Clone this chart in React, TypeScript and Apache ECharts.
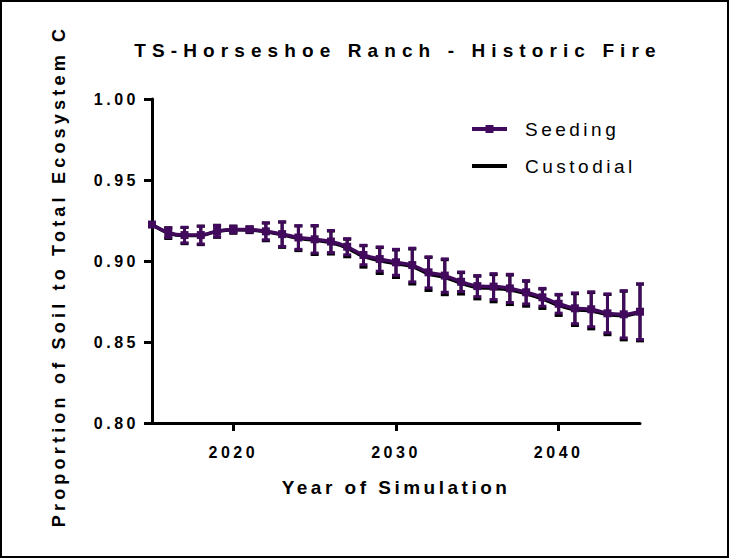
import React, { useEffect, useRef } from "react";
import * as echarts from "echarts";

const TITLE = "TS-Horseshoe Ranch - Historic Fire";
const X_NAME = "Year of Simulation";
const Y_NAME = "Proportion of Soil to Total Ecosystem C";
const SERIES_NAMES = ["Seeding", "Custodial"];

const years = [
  2015, 2016, 2017, 2018, 2019, 2020, 2021, 2022, 2023, 2024, 2025, 2026, 2027, 2028, 2029, 2030,
  2031, 2032, 2033, 2034, 2035, 2036, 2037, 2038, 2039, 2040, 2041, 2042, 2043, 2044, 2045,
];

const seedingMean = [
  0.9225, 0.9175, 0.916, 0.916, 0.9185, 0.9195, 0.9195, 0.9183, 0.9166, 0.9145, 0.9134, 0.912,
  0.9088, 0.9037, 0.9012, 0.8992, 0.8975, 0.893, 0.891, 0.8872, 0.8845, 0.8842, 0.8831, 0.8807,
  0.8776, 0.8736, 0.8708, 0.8702, 0.8677, 0.8671, 0.8687,
];
const seedingErr = [
  0.001, 0.003, 0.0048, 0.0055, 0.0035, 0.002, 0.0015, 0.0052, 0.0076, 0.0073, 0.0085, 0.0068,
  0.005, 0.006, 0.0075, 0.008, 0.0104, 0.0096, 0.0103, 0.006, 0.0065, 0.008, 0.0087, 0.0072,
  0.0055, 0.0058, 0.0095, 0.0108, 0.012, 0.0146, 0.0172,
];

const custodialMean = [
  0.9225, 0.9172, 0.9157, 0.9158, 0.9183, 0.9193, 0.9192, 0.918, 0.9162, 0.914, 0.9128, 0.9114,
  0.908, 0.9028, 0.9003, 0.8983, 0.8966, 0.892, 0.89, 0.8862, 0.8836, 0.8832, 0.8822, 0.8798,
  0.8767, 0.8727, 0.87, 0.8693, 0.8669, 0.8663, 0.8682,
];
const custodialErr = [
  0.001, 0.0033, 0.005, 0.0057, 0.0037, 0.0022, 0.0017, 0.0055, 0.0078, 0.0076, 0.0088, 0.0071,
  0.0054, 0.0066, 0.008, 0.0085, 0.0108, 0.0102, 0.0108, 0.0066, 0.007, 0.0084, 0.0091, 0.0077,
  0.006, 0.0063, 0.0098, 0.0112, 0.0124, 0.015, 0.0175,
];

const xTickValues = [2020, 2030, 2040];
const yMin = 0.8;
const yMax = 1.0;
const yStep = 0.05;

const PURPLE = "#410a5c";
const BLACK = "#000000";
const FONT = '"Liberation Sans", Arial, Helvetica, sans-serif';

const spacing: Record<string, number> = {
  [TITLE]: 6.1,
  [Y_NAME]: 4.2,
  [X_NAME]: 3.5,
  Seeding: 3.5,
  Custodial: 3.5,
};

function applySpacing(root: HTMLElement) {
  root.querySelectorAll("text").forEach((t) => {
    const s = t.textContent || "";
    let ls = spacing[s];
    if (ls === undefined && /^[\d.]+$/.test(s)) ls = 3.5;
    if (ls) t.setAttribute("letter-spacing", String(ls));
  });
}

function errorSeries(name: string, mean: number[], err: number[], color: string, z: number) {
  const data = years.map((yr, i) => [yr, mean[i] - err[i], mean[i] + err[i]]);
  return {
    type: "custom",
    name,
    z,
    silent: true,
    data,
    encode: { x: 0, y: [1, 2] },
    renderItem: (_params: any, api: any) => {
      const x = api.value(0);
      const lo = api.coord([x, api.value(1)]);
      const hi = api.coord([x, api.value(2)]);
      const hw = 4;
      const st = { stroke: color, lineWidth: 3, fill: "none" };
      return {
        type: "group",
        children: [
          { type: "line", shape: { x1: lo[0], y1: lo[1], x2: hi[0], y2: hi[1] }, style: st },
          { type: "line", shape: { x1: lo[0] - hw, y1: lo[1], x2: lo[0] + hw, y2: lo[1] }, style: st },
          { type: "line", shape: { x1: hi[0] - hw, y1: hi[1], x2: hi[0] + hw, y2: hi[1] }, style: st },
        ],
      };
    },
  };
}

export default function App() {
  const ref = useRef<HTMLDivElement>(null);
  useEffect(() => {
    const el = ref.current!;
    const chart = echarts.init(el, null, { renderer: "svg" });
    const option: any = {
      animation: false,
      backgroundColor: "#ffffff",
      textStyle: { fontFamily: FONT },
      grid: { left: 152, right: 89, top: 99, bottom: 135, outerBoundsMode: "none" },
      graphic: [
        {
          type: "rect",
          z: -10,
          shape: { x: 1, y: 1, width: 727, height: 556 },
          style: { fill: "none", stroke: "#000", lineWidth: 2 },
        },
        {
          type: "text",
          x: 398,
          y: 41,
          style: {
            text: TITLE,
            font: `bold 19px ${FONT}`,
            fill: "#000",
            textAlign: "center",
            align: "center",
            textVerticalAlign: "top",
            verticalAlign: "top",
          },
        },
      ],
      legend: {
        data: [
          { name: SERIES_NAMES[0], lineStyle: { width: 4, color: PURPLE } },
          { name: SERIES_NAMES[1], itemStyle: { opacity: 0 }, lineStyle: { width: 4, color: BLACK } },
        ],
        orient: "vertical",
        left: 470,
        top: 119,
        padding: 0,
        itemWidth: 35,
        itemHeight: 10,
        itemGap: 17,
        selectedMode: false,
        textStyle: {
          fontFamily: FONT,
          fontSize: 19,
          color: "#000",
          lineHeight: 20,
          padding: [0, 0, 0, 13],
        },
      },
      xAxis: {
        type: "value",
        min: years[0],
        max: years[years.length - 1],
        name: X_NAME,
        nameLocation: "middle",
        nameGap: 55,
        nameTextStyle: { fontFamily: FONT, fontWeight: "bold", fontSize: 19, color: "#000" },
        axisLine: { show: true, onZero: false, lineStyle: { color: "#000", width: 3 } },
        axisTick: { show: true, length: 8, lineStyle: { color: "#000", width: 3 }, customValues: xTickValues },
        axisLabel: {
          customValues: xTickValues,
          margin: 21,
          fontFamily: FONT,
          fontWeight: "bold",
          fontSize: 16,
          color: "#000",
          formatter: (v: number) => String(Math.round(v)),
        },
        splitLine: { show: false },
      },
      yAxis: {
        type: "value",
        min: yMin,
        max: yMax,
        interval: yStep,
        name: Y_NAME,
        nameLocation: "middle",
        nameGap: 84,
        nameTextStyle: {
          fontFamily: FONT,
          fontWeight: "bold",
          fontSize: 18,
          color: "#000",
          padding: [0, 30, 0, 0],
        },
        axisLine: { show: true, onZero: false, lineStyle: { color: "#000", width: 3 } },
        axisTick: { show: true, length: 8, lineStyle: { color: "#000", width: 3 } },
        axisLabel: {
          margin: 13,
          fontFamily: FONT,
          fontWeight: "bold",
          fontSize: 16,
          color: "#000",
          formatter: (v: number) => v.toFixed(2),
        },
        splitLine: { show: false },
      },
      series: [
        errorSeries("Custodial SD", custodialMean, custodialErr, BLACK, 1),
        {
          type: "line",
          name: "Custodial",
          z: 2,
          silent: true,
          smooth: 0.3,
          symbol: "none",
          data: years.map((yr, i) => [yr, custodialMean[i]]),
          lineStyle: { color: BLACK, width: 3.5 },
          itemStyle: { color: BLACK },
        },
        errorSeries("Seeding SD", seedingMean, seedingErr, PURPLE, 3),
        {
          type: "line",
          name: "Seeding",
          z: 4,
          silent: true,
          smooth: 0.3,
          symbol: "rect",
          symbolSize: 8,
          showAllSymbol: true,
          data: years.map((yr, i) => [yr, seedingMean[i]]),
          lineStyle: { color: PURPLE, width: 3.5 },
          itemStyle: { color: PURPLE },
        },
      ],
    };
    chart.setOption(option);
    applySpacing(el);
    const h = () => applySpacing(el);
    chart.on("finished", h);
    const t = setTimeout(h, 30);
    return () => {
      clearTimeout(t);
      chart.dispose();
    };
  }, []);
  return (
    <div
      ref={ref}
      style={{ position: "fixed", left: 0, top: 0, width: 729, height: 558, background: "#fff" }}
    />
  );
}
